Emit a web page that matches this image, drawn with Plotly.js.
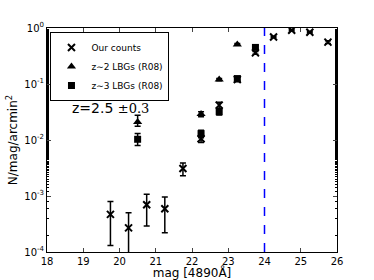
<!DOCTYPE html>
<html><head><meta charset="utf-8">
<script src="https://cdn.plot.ly/plotly-3.0.1.min.js"></script>
<style>body{margin:0;padding:0;background:#fff}#c{width:374px;height:280px}</style>
</head><body><div id="c"></div>
<script>
// Our counts
const countsMag = [19.75, 20.25, 20.75, 21.25, 21.75, 22.25, 22.75, 23.25, 23.75, 24.25, 24.75, 25.25, 25.75];
const countsN   = [4.7e-4, 2.7e-4, 7.0e-4, 5.9e-4, 3.1e-3, 1.05e-2, 4.2e-2, 0.12, 0.36, 0.69, 0.91, 0.84, 0.56];
const countsErrUp = [3.3e-4, 2.3e-4, 3.7e-4, 3.7e-4, 0.8e-3, 1.5e-3, 5e-3, 0.01, 0.02, 0.02, 0.03, 0.03, 0.03];
const countsErrDn = [3.4e-4, 2.6e-4, 4.1e-4, 3.7e-4, 0.8e-3, 1.5e-3, 5e-3, 0.01, 0.02, 0.02, 0.03, 0.03, 0.03];
// z~2 LBGs (R08)
const z2Mag = [20.5, 22.25, 22.75, 23.25];
const z2N   = [0.021, 0.029, 0.12, 0.51];
const z2ErrUp = [0.0066, 0.003, 0.006, 0.02];
const z2ErrDn = [0.0034, 0.003, 0.006, 0.02];
// z~3 LBGs (R08)
const z3Mag = [20.5, 22.25, 22.75, 23.25, 23.75];
const z3N   = [0.0103, 0.013, 0.032, 0.125, 0.45];
const z3ErrUp = [0.0027, 0.002, 0.004, 0.008, 0.03];
const z3ErrDn = [0.0023, 0.002, 0.004, 0.008, 0.03];
// axis ticks
const xTicks = [18, 19, 20, 21, 22, 23, 24, 25, 26];
const yTickVals = [1e-4, 1e-3, 1e-2, 1e-1, 1];
const yTickText = ['10<sup>-4</sup>', '10<sup>-3</sup>', '10<sup>-2</sup>', '10<sup>-1</sup>', '10<sup>0</sup>'];
const cutMag = 24;

const F = 'DejaVu Sans, sans-serif';
const err = (up, dn) => ({type:'data', symmetric:false, array:up, arrayminus:dn, color:'#000', thickness:1.5, width:3});

const traces = [
  {x:countsMag, y:countsN, type:'scatter', mode:'markers', name:'Our counts',
   marker:{symbol:'x-thin-open', size:7, color:'#000', line:{width:2, color:'#000'}},
   error_y: err(countsErrUp, countsErrDn)},
  {x:z2Mag, y:z2N, type:'scatter', mode:'markers', name:'z\u223C2 LBGs (R08)',
   marker:{symbol:'triangle-up', size:8, color:'#000'},
   error_y: err(z2ErrUp, z2ErrDn)},
  {x:z3Mag, y:z3N, type:'scatter', mode:'markers', name:'z\u223C3 LBGs (R08)',
   marker:{symbol:'square', size:7, color:'#000'},
   error_y: err(z3ErrUp, z3ErrDn)}
];

const layout = {
  width:374, height:280,
  margin:{l:47, r:37, t:28, b:28},
  paper_bgcolor:'#fff', plot_bgcolor:'#fff',
  font:{family:F, size:10, color:'#000'},
  showlegend:true,
  legend:{x:0.012, y:0.982, xanchor:'left', yanchor:'top', bgcolor:'#fff',
          bordercolor:'#000', borderwidth:1, font:{family:F, size:9},
          tracegroupgap:0, itemwidth:30},
  xaxis:{range:[18, 26], tickvals:xTicks, ticktext:xTicks.map(String), ticks:'inside', ticklen:4,
         mirror:'allticks', showline:true, linecolor:'#000', linewidth:1, showgrid:false, zeroline:false,
         tickfont:{family:F, size:10},
         title:{text:'mag [4890\u00C5]', font:{family:F, size:12}, standoff:3}},
  yaxis:{type:'log', range:[-4, 0], tickvals:yTickVals, ticktext:yTickText, ticks:'inside', ticklen:4,
         mirror:'allticks', showline:true, linecolor:'#000', linewidth:1, showgrid:false, zeroline:false,
         tickfont:{family:F, size:10},
         minor:{ticks:'inside', ticklen:2, tickcolor:'#000', showgrid:false},
         title:{text:'N/mag/arcmin<sup>2</sup>', font:{family:F, size:12}, standoff:4}},
  shapes:[{type:'line', xref:'x', yref:'paper', x0:cutMag, x1:cutMag, y0:0, y1:1,
           line:{color:'#0000ff', width:1.5, dash:'dash'}}],
  annotations:[{xref:'x', yref:'y', x:19.75, y:-1.42, showarrow:false,
     text:'z=2.5 <span style="font-family:DejaVu Serif, serif;font-size:13px">\u00B10.3</span>',
     font:{family:F, size:14, color:'#000'}}]
};
Plotly.newPlot('c', traces, layout, {staticPlot:true});
</script></body></html>
